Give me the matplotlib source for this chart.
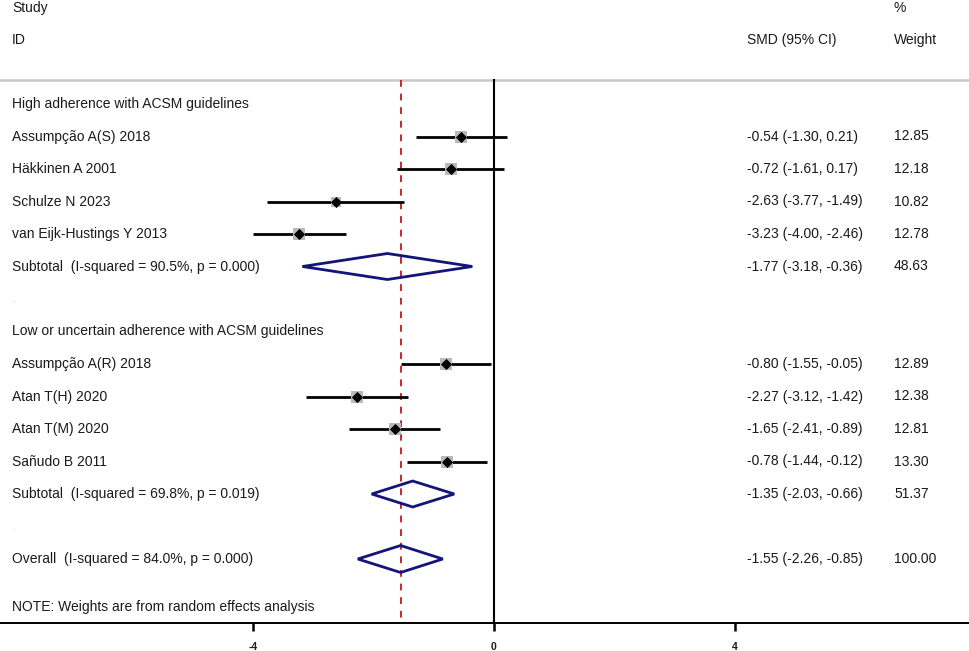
import matplotlib
matplotlib.use('Agg')
import matplotlib.pyplot as plt
from matplotlib.transforms import blended_transform_factory
from matplotlib.patches import Polygon
import numpy as np

plt.rcParams['font.family'] = ['Liberation Sans', 'DejaVu Sans']

# ---------------- data ----------------
group_names = ["High adherence with ACSM guidelines",
               "Low or uncertain adherence with ACSM guidelines"]
study_names = ["Assumpção A(S) 2018", "Häkkinen A 2001", "Schulze N 2023",
               "van Eijk-Hustings Y 2013",
               "Assumpção A(R) 2018", "Atan T(H) 2020", "Atan T(M) 2020",
               "Sañudo B 2011"]
study_group = [0, 0, 0, 0, 1, 1, 1, 1]
study_smd = [-0.54, -0.72, -2.63, -3.23, -0.80, -2.27, -1.65, -0.78]
study_lo = [-1.30, -1.61, -3.77, -4.00, -1.55, -3.12, -2.41, -1.44]
study_hi = [0.21, 0.17, -1.49, -2.46, -0.05, -1.42, -0.89, -0.12]
study_weight = [12.85, 12.18, 10.82, 12.78, 12.89, 12.38, 12.81, 13.30]

subtotal_labels = ["Subtotal  (I-squared = 90.5%, p = 0.000)",
                   "Subtotal  (I-squared = 69.8%, p = 0.019)"]
subtotal_smd = [-1.77, -1.35]
subtotal_lo = [-3.18, -2.03]
subtotal_hi = [-0.36, -0.66]
subtotal_weight = [48.63, 51.37]

overall_label = "Overall  (I-squared = 84.0%, p = 0.000)"
overall_smd = -1.55
overall_lo = -2.26
overall_hi = -0.85
overall_weight = 100.00

note_text = "NOTE: Weights are from random effects analysis"
x_ticks = [-4, 0, 4]

# ---------------- layout ----------------
W, H = 969, 651
fig = plt.figure(figsize=(W / 100, H / 100), dpi=100)
axis_y = 623
ax = fig.add_axes([0, (H - axis_y) / H, 1, axis_y / H])
x0_px, scale = 494.0, 60.25
ax.set_xlim(-x0_px / scale, (W - x0_px) / scale)
ax.set_ylim(axis_y, 0)
tr = blended_transform_factory(ax.transAxes, ax.transData)

txt_color = '#1a1a1a'
fs = 10
left_px, smd_px, wt_px = 12, 747, 894
navy = '#14147a'


def row_y(k):
    return 104 + 32.5 * k


def put(px, y, s, **kw):
    ax.text(px / W, y, s, transform=tr, fontsize=fs, color=txt_color,
            va='center', ha='left', **kw)


def fmt_ci(m, lo, hi):
    return f"{m:.2f} ({lo:.2f}, {hi:.2f})"


# headers
put(left_px, 8, "Study")
put(left_px, 40, "ID")
put(smd_px, 40, "SMD (95% CI)")
put(wt_px, 8, "%")
put(wt_px, 40, "Weight")
ax.axhline(80, color='#c8c8c8', lw=1.8, zorder=1)

# reference lines
ax.plot([0, 0], [80, axis_y], color='black', lw=1.5, zorder=2)
ax.plot([overall_smd, overall_smd], [80, axis_y], color='#c8282d', lw=1.4,
        dashes=(3.5, 3.5), zorder=2)

k = 0
for g in range(len(group_names)):
    put(left_px, row_y(k), group_names[g])
    k += 1
    for i in range(len(study_names)):
        if study_group[i] != g:
            continue
        y = row_y(k)
        put(left_px, y, study_names[i])
        put(smd_px, y, fmt_ci(study_smd[i], study_lo[i], study_hi[i]))
        put(wt_px, y, f"{study_weight[i]:.2f}")
        ax.plot([study_lo[i], study_hi[i]], [y, y], color='black', lw=2.0,
                zorder=3, solid_capstyle='butt')
        ax.plot(study_smd[i], y, marker='s', linestyle='none',
                markersize=2.4 * np.sqrt(study_weight[i]),
                color='#b9b9b9', markeredgewidth=0, zorder=3)
        ax.plot(study_smd[i], y, marker='D', linestyle='none',
                markersize=5.2, color='black', markeredgewidth=0.6, zorder=4)
        k += 1
    y = row_y(k)
    put(left_px, y, subtotal_labels[g])
    put(smd_px, y, fmt_ci(subtotal_smd[g], subtotal_lo[g], subtotal_hi[g]))
    put(wt_px, y, f"{subtotal_weight[g]:.2f}")
    ax.add_patch(Polygon([[subtotal_lo[g], y], [subtotal_smd[g], y - 13],
                          [subtotal_hi[g], y], [subtotal_smd[g], y + 13]],
                         closed=True, fill=False, edgecolor=navy, lw=2.0,
                         zorder=4))
    k += 1
    ax.text(left_px / W, row_y(k) + 2, ".", transform=tr, fontsize=6,
            color='#aaaaaa', va='center', ha='left')
    k += 1

y = row_y(k)
put(left_px, y, overall_label)
put(smd_px, y, fmt_ci(overall_smd, overall_lo, overall_hi))
put(wt_px, y, f"{overall_weight:.2f}")
ax.add_patch(Polygon([[overall_lo, y], [overall_smd, y - 13.5],
                      [overall_hi, y], [overall_smd, y + 13.5]],
                     closed=True, fill=False, edgecolor=navy, lw=2.0, zorder=4))

put(left_px, 607, note_text)

# axes styling
for s in ['top', 'left', 'right']:
    ax.spines[s].set_visible(False)
ax.spines['bottom'].set_color('black')
ax.spines['bottom'].set_linewidth(1.4)
ax.set_yticks([])
ax.set_xticks(x_ticks)
ax.set_xticklabels([str(t) for t in x_ticks], fontsize=7.5, fontweight='bold',
                   color=txt_color)
ax.tick_params(axis='x', direction='out', length=6, width=1.8, pad=8)
ax.patch.set_alpha(0)

fig.savefig('out.png', dpi=100, facecolor='white')
